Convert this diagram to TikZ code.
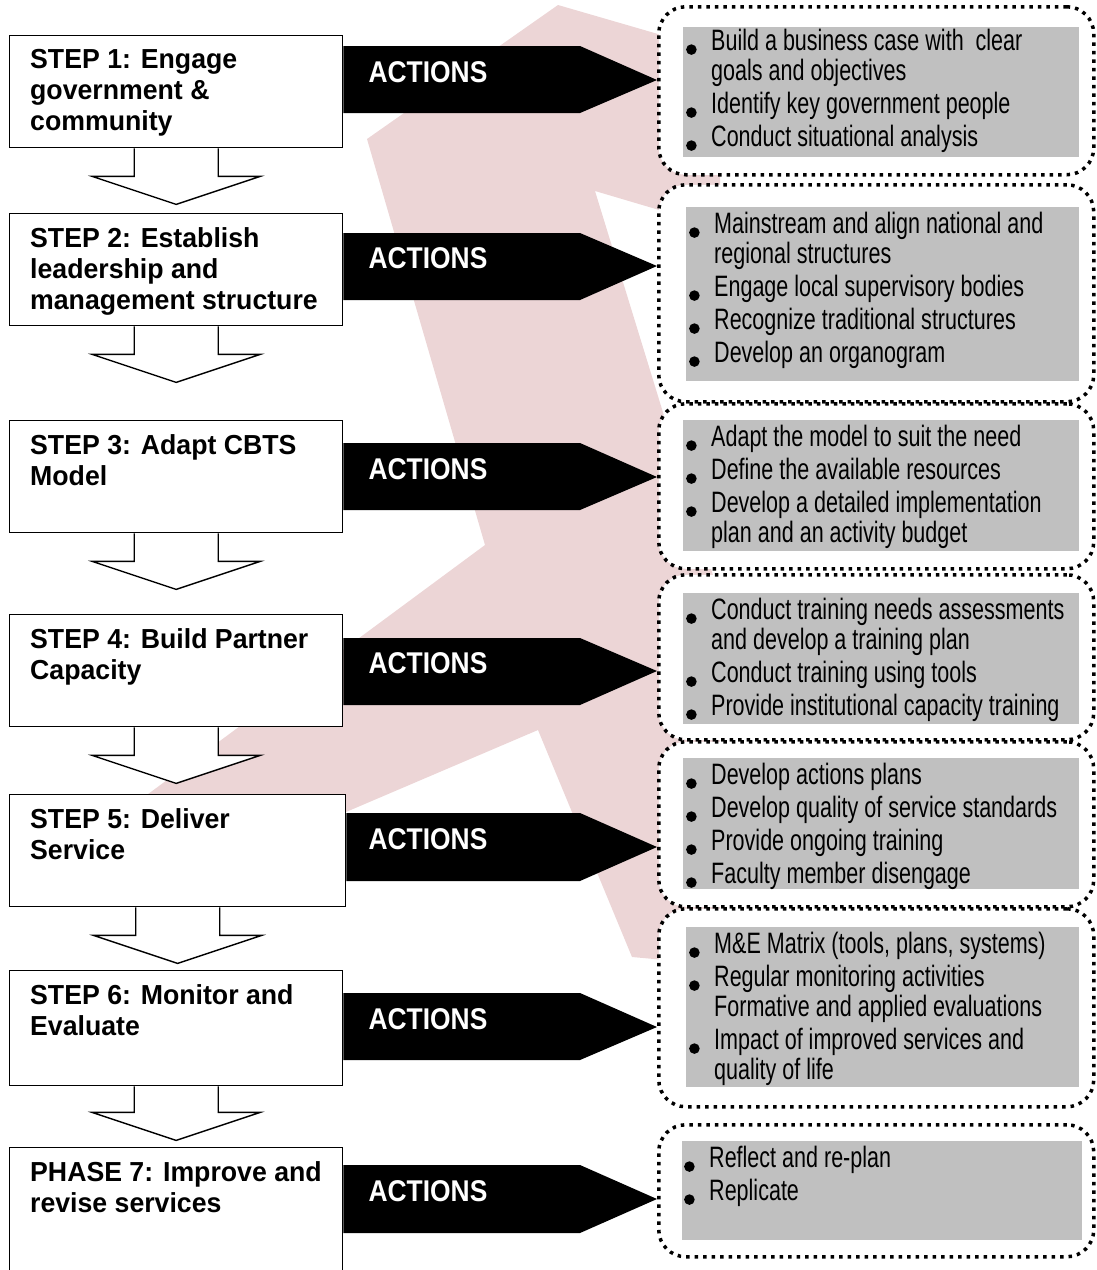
\documentclass[tikz,border=0pt]{standalone}
\usepackage{fontspec}
\setmainfont{Liberation Sans}
\newfontfamily\stepfont[FakeStretch=0.97]{Liberation Sans}
\newfontfamily\actfont[FakeStretch=0.88]{Liberation Sans}
\newfontfamily\listfont[FakeStretch=0.73]{Liberation Sans}

\definecolor{checkpink}{RGB}{236,213,214}
\definecolor{listgray}{RGB}{192,192,192}

% bullet hung to the left of an item
\newcommand{\bul}{\llap{\smash{\tikz[baseline=-1pt]\fill (0,0) circle[radius=5.3pt];}\hspace{14.5pt}}}

\tikzset{
  stepbox/.style={draw, fill=white, line width=1.4pt, anchor=north west, minimum width=333pt, minimum height=112pt, inner sep=0pt},
  steptext/.style={anchor=north west, align=left, inner sep=0pt, font=\stepfont\bfseries\fontsize{27.5}{31}\selectfont},
  downarrow/.style={draw, fill=white, line width=1.4pt, line join=miter},
  actfill/.style={fill=black},
  acttext/.style={text=white, inner sep=0pt, font=\actfont\bfseries\fontsize{30}{30}\selectfont},
  dotbox/.style={draw, fill=white, line width=3.5pt, dash pattern=on 3.5pt off 5pt, rounded corners=27pt, anchor=north west, inner sep=0pt},
  graybox/.style={fill=listgray, anchor=north west, inner sep=0pt},
  listtext/.style={anchor=north west, align=left, inner sep=0pt, font=\listfont\fontsize{29.5}{30}\selectfont}
}

\begin{document}
\begin{tikzpicture}[x=1pt, y=-1pt]
    \useasboundingbox (0,0) rectangle (1096,1270);

    % Pale check mark behind everything
    \fill[checkpink] (558,5) -- (720,52) -- (720,228) -- (595,191) -- (720,598) -- (720,965)
        -- (632,957) -- (538,730) -- (140,900) -- (140,800) -- (485,545) -- (367,139) -- cycle;

    % Dotted boxes for the actions
    \node[dotbox, minimum width=435pt, minimum height=168pt] (d1) at (657,5) {};
    \node[dotbox, minimum width=435pt, minimum height=217pt] (d2) at (657,183) {};
    \node[dotbox, minimum width=435pt, minimum height=165pt] (d3) at (657,402) {};
    \node[dotbox, minimum width=435pt, minimum height=165pt] (d4) at (657,573) {};
    \node[dotbox, minimum width=435pt, minimum height=165pt] (d5) at (657,740) {};
    \node[dotbox, minimum width=435pt, minimum height=198pt] (d6) at (657,907) {};
    \node[dotbox, minimum width=435pt, minimum height=132pt] (d7) at (657,1123) {};

    % Grey panels
    \node[graybox, minimum width=396pt, minimum height=130pt] (g1) at (683,27) {};
    \node[graybox, minimum width=393pt, minimum height=174pt] (g2) at (686,207) {};
    \node[graybox, minimum width=396pt, minimum height=131pt] (g3) at (683,420) {};
    \node[graybox, minimum width=396pt, minimum height=131pt] (g4) at (683,593) {};
    \node[graybox, minimum width=396pt, minimum height=131pt] (g5) at (683,758) {};
    \node[graybox, minimum width=393pt, minimum height=160pt] (g6) at (686,927) {};
    \node[graybox, minimum width=400pt, minimum height=99pt] (g7) at (682,1141) {};

    % Action lists
    \node[listtext] (b1) at (711,29) {\bul Build a business case with\ \ clear\\goals and objectives\\[3pt]\bul Identify key government people\\[3pt]\bul Conduct situational analysis};
    \node[listtext] (b2) at (714,212) {\bul Mainstream and align national and\\regional structures\\[3pt]\bul Engage local supervisory bodies\\[3pt]\bul Recognize traditional structures\\[3pt]\bul Develop an organogram};
    \node[listtext] (b3) at (711,425) {\bul Adapt the model to suit the need\\[3pt]\bul Define the available resources\\[3pt]\bul Develop a detailed implementation\\plan and an activity budget};
    \node[listtext] (b4) at (711,598) {\bul Conduct training needs assessments\\and develop a training plan\\[3pt]\bul Conduct training using tools\\[3pt]\bul Provide institutional capacity training};
    \node[listtext] (b5) at (711,763) {\bul Develop actions plans\\[3pt]\bul Develop quality of service standards\\[3pt]\bul Provide ongoing training\\[3pt]\bul Faculty member disengage};
    \node[listtext] (b6) at (714,932) {\bul M\&E Matrix (tools, plans, systems)\\[3pt]\bul Regular monitoring activities\\Formative and applied evaluations\\[3pt]\bul Impact of improved services and\\quality of life};
    \node[listtext] (b7) at (709,1146) {\bul Reflect and re-plan\\[3pt]\bul Replicate};

    % Step boxes
    \node[stepbox] (s1) at (9,35) {};
    \node[stepbox] (s2) at (9,213) {};
    \node[stepbox] (s3) at (9,420) {};
    \node[stepbox] (s4) at (9,614) {};
    \node[stepbox, minimum width=336pt] (s5) at (9,794) {};
    \node[stepbox, minimum height=115pt] (s6) at (9,970) {};
    \node[stepbox, minimum height=140pt] (s7) at (9,1147) {};

    % Hollow arrows between the steps
    \draw[downarrow] ([xshift=-42pt]s1.south) -- ++(0,28) -- ++(-42,0) -- ++(84,28) -- ++(84,-28) -- ++(-42,0) -- ++(0,-28);
    \draw[downarrow] ([xshift=-42pt]s2.south) -- ++(0,28) -- ++(-42,0) -- ++(84,28) -- ++(84,-28) -- ++(-42,0) -- ++(0,-28);
    \draw[downarrow] ([xshift=-42pt]s3.south) -- ++(0,28) -- ++(-42,0) -- ++(84,28) -- ++(84,-28) -- ++(-42,0) -- ++(0,-28);
    \draw[downarrow] ([xshift=-42pt]s4.south) -- ++(0,28) -- ++(-42,0) -- ++(84,28) -- ++(84,-28) -- ++(-42,0) -- ++(0,-28);
    \draw[downarrow] ([xshift=-42pt]s5.south) -- ++(0,28) -- ++(-42,0) -- ++(84,28) -- ++(84,-28) -- ++(-42,0) -- ++(0,-28);
    \draw[downarrow] ([xshift=-42pt]s6.south) -- ++(0,26) -- ++(-42,0) -- ++(84,28) -- ++(84,-28) -- ++(-42,0) -- ++(0,-26);

    % Step texts
    \node[steptext] (t1) at ([shift={(21,14)}]s1.north west) {STEP 1: Engage\\government \&\\community};
    \node[steptext] (t2) at ([shift={(21,14)}]s2.north west) {STEP 2: Establish\\leadership and\\management structure};
    \node[steptext] (t3) at ([shift={(21,14)}]s3.north west) {STEP 3: Adapt CBTS\\Model};
    \node[steptext] (t4) at ([shift={(21,14)}]s4.north west) {STEP 4: Build Partner\\Capacity};
    \node[steptext] (t5) at ([shift={(21,14)}]s5.north west) {STEP 5: Deliver\\Service};
    \node[steptext] (t6) at ([shift={(21,14)}]s6.north west) {STEP 6: Monitor and\\Evaluate};
    \node[steptext] (t7) at ([shift={(21,14)}]s7.north west) {PHASE 7: Improve and\\revise services};

    % Black ACTIONS arrows
    \fill[actfill] (s1.east |- 0,46) -- (580,46) -- (d1.west |- 0,80) -- (580,113) -- (s1.east |- 0,113) -- cycle;
    \fill[actfill] (s2.east |- 0,233) -- (580,233) -- (d2.west |- 0,266) -- (580,300) -- (s2.east |- 0,300) -- cycle;
    \fill[actfill] (s3.east |- 0,443) -- (580,443) -- (d3.west |- 0,477) -- (580,510) -- (s3.east |- 0,510) -- cycle;
    \fill[actfill] (s4.east |- 0,638) -- (580,638) -- (d4.west |- 0,671) -- (580,705) -- (s4.east |- 0,705) -- cycle;
    \fill[actfill] (s5.east |- 0,813) -- (580,813) -- (d5.west |- 0,847) -- (580,881) -- (s5.east |- 0,881) -- cycle;
    \fill[actfill] (s6.east |- 0,993) -- (580,993) -- (d6.west |- 0,1027) -- (580,1060) -- (s6.east |- 0,1060) -- cycle;
    \fill[actfill] (s7.east |- 0,1165) -- (580,1165) -- (d7.west |- 0,1199) -- (580,1233) -- (s7.east |- 0,1233) -- cycle;

    \node[acttext] (a1) at (428,72) {ACTIONS};
    \node[acttext] (a2) at (428,258) {ACTIONS};
    \node[acttext] (a3) at (428,469) {ACTIONS};
    \node[acttext] (a4) at (428,663) {ACTIONS};
    \node[acttext] (a5) at (428,839) {ACTIONS};
    \node[acttext] (a6) at (428,1019) {ACTIONS};
    \node[acttext] (a7) at (428,1191) {ACTIONS};

\end{tikzpicture}
\end{document}
